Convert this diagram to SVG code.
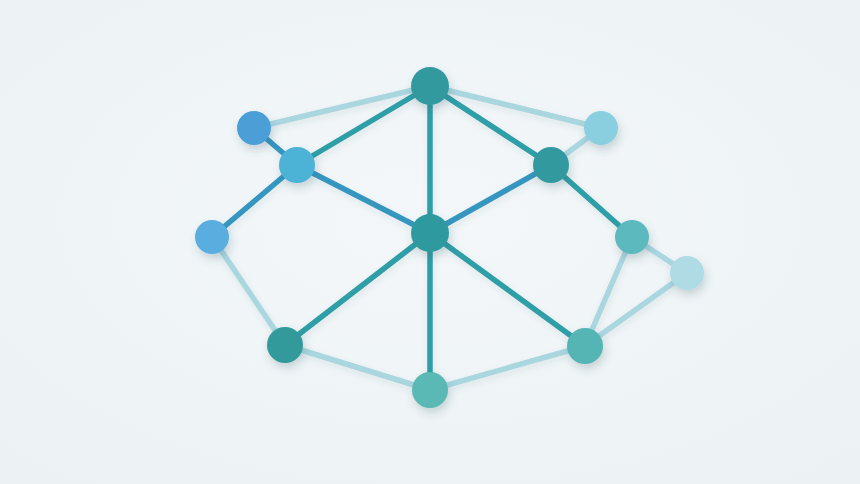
<svg xmlns="http://www.w3.org/2000/svg" width="860" height="484" viewBox="0 0 860 484">
<defs>
<radialGradient id="bg" cx="50%" cy="45%" r="70%">
<stop offset="0" stop-color="#f3f7f9"/>
<stop offset="1" stop-color="#ecf2f4"/>
</radialGradient>
<filter id="sh" x="-60%" y="-60%" width="220%" height="220%">
<feDropShadow dx="2" dy="5" stdDeviation="4.5" flood-color="#3a5a68" flood-opacity="0.22"/>
</filter>
<filter id="lsh" x="-10%" y="-10%" width="120%" height="120%">
<feDropShadow dx="1" dy="3" stdDeviation="3" flood-color="#3a5a68" flood-opacity="0.10"/>
</filter>
</defs>
<style>
.e{stroke-width:5.5;stroke-linecap:round;fill:none}
.pale{stroke:#a9d6df}
.teal{stroke:#2f9ea7}
.blue{stroke:#3596bf}
.n{filter:url(#sh)}
</style>
<rect width="860" height="484" fill="url(#bg)"/>
<g id="connectors" filter="url(#lsh)">
<line class="e pale" x1="254" y1="128" x2="430" y2="86"/>
<line class="e pale" x1="430" y1="86" x2="601" y2="128"/>
<line class="e pale" x1="551" y1="165" x2="601" y2="128"/>
<line class="e pale" x1="212" y1="237" x2="285" y2="345"/>
<line class="e pale" x1="285" y1="345" x2="430" y2="390"/>
<line class="e pale" x1="430" y1="390" x2="585" y2="346"/>
<line class="e pale" x1="585" y1="346" x2="632" y2="237"/>
<line class="e pale" x1="585" y1="346" x2="687" y2="273"/>
<line class="e pale" x1="632" y1="237" x2="687" y2="273"/>
<line class="e blue" x1="254" y1="128" x2="297" y2="165"/>
<line class="e blue" x1="297" y1="165" x2="212" y2="237"/>
<line class="e blue" x1="297" y1="165" x2="430" y2="233"/>
<line class="e blue" x1="551" y1="165" x2="430" y2="233"/>
<line class="e teal" x1="430" y1="86" x2="297" y2="165"/>
<line class="e teal" x1="430" y1="86" x2="430" y2="233"/>
<line class="e teal" x1="430" y1="86" x2="551" y2="165"/>
<line class="e teal" x1="551" y1="165" x2="632" y2="237"/>
<line class="e teal" x1="430" y1="233" x2="285" y2="345"/>
<line class="e teal" x1="430" y1="233" x2="585" y2="346"/>
<line class="e teal" x1="430" y1="233" x2="430" y2="390"/>
</g>
<g id="n-top" class="n"><circle cx="430" cy="86" r="19" fill="#339a9f"/></g>
<g id="n-topleft" class="n"><circle cx="254" cy="128" r="17" fill="#4b9fd6"/></g>
<g id="n-leftupper" class="n"><circle cx="297" cy="165" r="18" fill="#4db3d6"/></g>
<g id="n-rightupper" class="n"><circle cx="551" cy="165" r="18" fill="#339a9f"/></g>
<g id="n-topright" class="n"><circle cx="601" cy="128" r="17" fill="#8acfe0"/></g>
<g id="n-center" class="n"><circle cx="430" cy="233" r="19" fill="#2f9aa0"/></g>
<g id="n-left" class="n"><circle cx="212" cy="237" r="17" fill="#5aaedf"/></g>
<g id="n-right" class="n"><circle cx="632" cy="237" r="17" fill="#5cb9bd"/></g>
<g id="n-farright" class="n"><circle cx="687" cy="273" r="17" fill="#afdbe4"/></g>
<g id="n-bottomleft" class="n"><circle cx="285" cy="345" r="18" fill="#339a9b"/></g>
<g id="n-bottomright" class="n"><circle cx="585" cy="346" r="18" fill="#55b5b5"/></g>
<g id="n-bottom" class="n"><circle cx="430" cy="390" r="18" fill="#5ab8b5"/></g>
</svg>
